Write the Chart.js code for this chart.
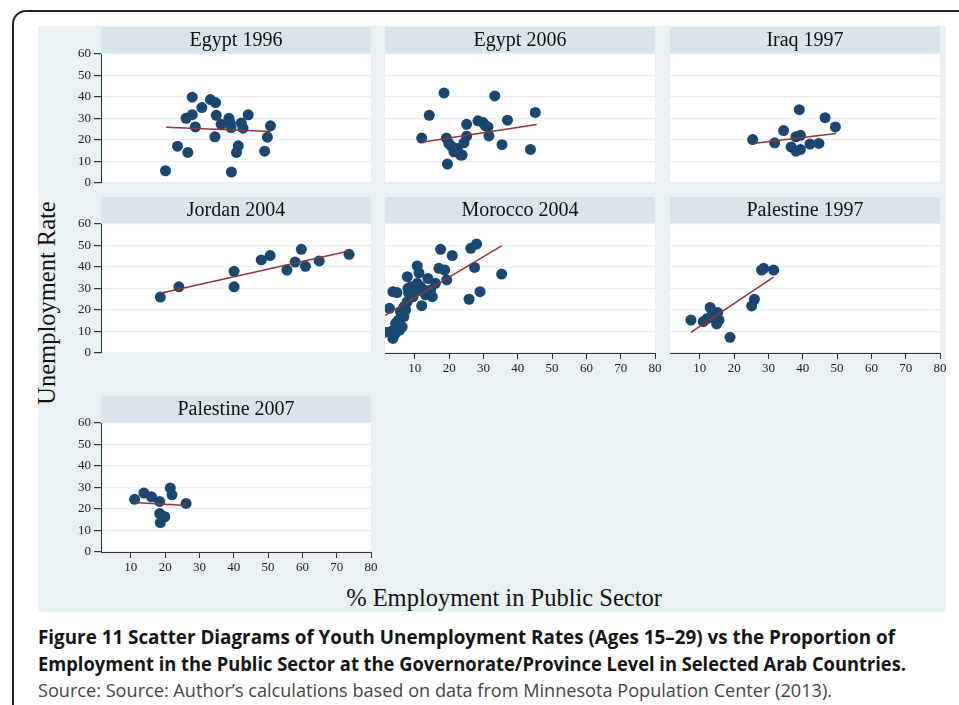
<!DOCTYPE html>
<html>
<head>
<meta charset="utf-8">
<script src="https://cdn.jsdelivr.net/npm/chart.js@4.4.1/dist/chart.umd.min.js"></script>
<style>
  body { margin: 0; width: 959px; height: 705px; background: #fff; position: relative; overflow: hidden; }
  #frame { position: absolute; left: 12px; top: 10px; width: 1000px; height: 760px; border: 2px solid #222; border-radius: 14px; }
  #figbg { position: absolute; left: 38px; top: 26px; width: 908px; height: 586px; background: #e9f1f3; }
  canvas { position: absolute; }
  .axtitle { position: absolute; font-family: "Liberation Serif", serif; font-size: 24.5px; color: #111; text-align: center; white-space: nowrap; }
  #ytitle { left: -103px; top: 288px; width: 300px; height: 30px; line-height: 30px; transform: rotate(-90deg); }
  #xtitle { left: 304px; top: 584px; width: 400px; height: 28px; line-height: 28px; }
  .cap { position: absolute; left: 38px; white-space: nowrap; transform-origin: left center;
         font-family: "Open Sans", "Noto Sans", sans-serif; font-size: 19px; line-height: 26px; }
</style>
</head>
<body>
<div id="frame"></div>
<div id="figbg"></div>
<div class="axtitle" id="ytitle">Unemployment Rate</div>
<div class="axtitle" id="xtitle">% Employment in Public Sector</div>
<div class="cap" id="cap1" data-w="857" style="top:624px;color:#151515;font-weight:700;">Figure 11 Scatter Diagrams of Youth Unemployment Rates (Ages 15–29) vs the Proportion of</div>
<div class="cap" id="cap2" data-w="868" style="top:651px;color:#151515;font-weight:700;">Employment in the Public Sector at the Governorate/Province Level in Selected Arab Countries.</div>
<div class="cap" id="cap3" data-w="794" style="top:677px;color:#444;font-weight:400;">Source: Source: Author’s calculations based on data from Minnesota Population Center (2013).</div>
<script>
// tick labels
const xTicks = [10, 20, 30, 40, 50, 60, 70, 80];
const yTicks = [0, 10, 20, 30, 40, 50, 60];

const panelTitles = ['Egypt 1996', 'Egypt 2006', 'Iraq 1997', 'Jordan 2004', 'Morocco 2004', 'Palestine 1997', 'Palestine 2007'];

// % employment in public sector / unemployment rate, per governorate
const egypt1996X = [20.1, 23.6, 26.6, 27.9, 26.1, 27.9, 28.8, 30.7, 33.2, 34.7, 34.9, 34.5, 36.3, 38.6, 39.0, 39.2, 39.3, 41.3, 40.8, 42.2, 42.7, 44.2, 49.0, 49.8, 50.7];
const egypt1996Y = [5.7, 17.1, 14.2, 39.9, 30.1, 31.8, 26.1, 35.1, 38.8, 37.4, 31.5, 21.5, 27.3, 30.1, 27.9, 25.8, 5.1, 17.3, 14.2, 27.9, 25.5, 31.7, 14.8, 21.3, 26.6];

const egypt2006X = [18.5, 33.3, 14.2, 45.1, 12.0, 19.2, 25.1, 28.4, 29.9, 31.3, 31.6, 37.0, 35.4, 43.7, 19.5, 25.1, 24.3, 20.6, 21.4, 23.3, 22.4, 19.9, 23.8, 30.6];
const egypt2006Y = [41.9, 40.5, 31.5, 32.8, 20.9, 20.9, 27.3, 28.9, 28.1, 26.1, 21.9, 29.2, 17.8, 15.6, 8.8, 21.8, 18.7, 17.1, 14.5, 13.0, 16.1, 18.4, 13.0, 26.6];

const iraq1997X = [25.4, 31.8, 34.4, 39.0, 46.5, 49.5, 38.0, 39.3, 36.6, 38.0, 39.3, 42.1, 44.7];
const iraq1997Y = [20.2, 18.7, 24.4, 34.1, 30.4, 26.1, 21.5, 22.2, 16.8, 14.8, 15.6, 18.1, 18.4];

const jordan2004X = [18.6, 24.0, 40.1, 40.1, 48.0, 50.6, 55.5, 57.9, 59.7, 60.9, 64.9, 73.6];
const jordan2004Y = [26.0, 30.8, 38.0, 30.8, 43.3, 45.3, 38.6, 42.3, 48.2, 40.3, 42.8, 45.9];

const morocco2004X = [1.3, 3.6, 2.6, 3.6, 4.8, 4.4, 5.3, 5.6, 3.9, 6.3, 6.8, 7.3, 7.8, 7.8, 8.0, 8.8, 9.5, 10.7, 11.2, 11.7, 12.0, 10.7, 12.6, 13.8, 13.1, 15.1, 16.0, 17.0, 17.5, 18.7, 19.3, 20.9, 25.8, 26.3, 28.0, 27.4, 29.0, 35.3, 14.6, 6.8, 5.8, 4.9, 9.7, 10.2, 2.9, 4.4, 8.2];
const morocco2004Y = [9.6, 6.8, 20.8, 28.5, 28.1, 13.8, 15.3, 10.7, 10.7, 12.2, 16.9, 20.0, 23.9, 35.5, 30.1, 30.8, 26.2, 40.5, 37.3, 30.8, 22.0, 32.4, 29.3, 34.7, 27.0, 26.2, 32.4, 39.4, 48.2, 38.6, 34.0, 45.3, 25.0, 48.7, 50.7, 39.8, 28.5, 36.7, 29.3, 21.5, 19.2, 14.5, 30.8, 28.5, 9.9, 9.3, 27.8];

const palestine1997X = [7.4, 11.0, 13.0, 13.7, 15.2, 15.6, 14.9, 14.2, 12.2, 18.8, 25.1, 25.9, 28.0, 28.6, 31.5];
const palestine1997Y = [15.3, 14.6, 21.2, 18.4, 18.8, 15.3, 13.5, 16.1, 16.1, 7.3, 21.9, 25.0, 38.6, 39.4, 38.6];

const palestine2007X = [11.1, 13.8, 16.0, 18.4, 18.4, 19.9, 18.6, 21.5, 22.0, 26.1];
const palestine2007Y = [24.5, 27.4, 25.7, 23.5, 17.9, 16.4, 13.7, 29.8, 26.6, 22.6];

// fitted line end points
const egypt1996FitX = [20.3, 50.7], egypt1996FitY = [25.9, 24.0];
const egypt2006FitX = [12.0, 45.5], egypt2006FitY = [19.0, 27.2];
const iraq1997FitX = [25.4, 49.7], iraq1997FitY = [18.4, 23.0];
const jordan2004FitX = [18.6, 73.6], jordan2004FitY = [27.8, 47.4];
const morocco2004FitX = [1.3, 35.3], morocco2004FitY = [17.5, 49.8];
const palestine1997FitX = [7.4, 31.5], palestine1997FitY = [9.6, 35.3];
const palestine2007FitX = [11.1, 26.1], palestine2007FitY = [23.0, 21.6];

const seriesX = [egypt1996X, egypt2006X, iraq1997X, jordan2004X, morocco2004X, palestine1997X, palestine2007X];
const seriesY = [egypt1996Y, egypt2006Y, iraq1997Y, jordan2004Y, morocco2004Y, palestine1997Y, palestine2007Y];
const fitX = [egypt1996FitX, egypt2006FitX, iraq1997FitX, jordan2004FitX, morocco2004FitX, palestine1997FitX, palestine2007FitX];
const fitY = [egypt1996FitY, egypt2006FitY, iraq1997FitY, jordan2004FitY, morocco2004FitY, palestine1997FitY, palestine2007FitY];

// layout
const colLeft = [101, 385, 670];
const rowTop = [27, 197, 396];
const plotW = 270, plotH = 129, headH = 27, yAxisW = 45, xAxisH = 30, padR = 10;
const showXAxis = [false, false, false, false, true, true, true];

const headerPlugin = {
  id: 'panelHeader',
  beforeDraw(chart, args, opts) {
    const { ctx, chartArea: a } = chart;
    ctx.save();
    ctx.fillStyle = '#ffffff';
    ctx.fillRect(a.left, a.top, a.right - a.left, a.bottom - a.top);
    ctx.fillStyle = '#d9e5eb';
    ctx.fillRect(a.left, a.top - headH, a.right - a.left, headH);
    ctx.fillStyle = '#111';
    ctx.font = '20px "Liberation Serif", serif';
    ctx.textAlign = 'center';
    ctx.textBaseline = 'middle';
    ctx.fillText(opts.text, (a.left + a.right) / 2, a.top - headH / 2 + 0.5);
    ctx.restore();
  }
};

const tickFont = { family: '"Liberation Serif", serif', size: 13 };

panelTitles.forEach((title, i) => {
  const col = i % 3, row = Math.floor(i / 3);
  const showY = col === 0;
  const showX = showXAxis[i];
  const canvas = document.createElement('canvas');
  const w = (showY ? yAxisW : 0) + plotW + padR;
  const h = headH + plotH + xAxisH;
  canvas.width = w;
  canvas.height = h;
  canvas.style.width = w + 'px';
  canvas.style.height = h + 'px';
  canvas.style.left = (colLeft[col] - (showY ? yAxisW : 0)) + 'px';
  canvas.style.top = rowTop[row] + 'px';
  document.body.appendChild(canvas);

  new Chart(canvas, {
    type: 'scatter',
    data: {
      datasets: [
        {
          data: fitX[i].map((x, k) => ({ x: x, y: fitY[i][k] })),
          showLine: true,
          borderColor: '#90353b',
          borderWidth: 1.5,
          pointRadius: 0
        },
        {
          data: seriesX[i].map((x, k) => ({ x: x, y: seriesY[i][k] })),
          backgroundColor: '#1a476f',
          borderColor: '#1a476f',
          borderWidth: 0,
          pointRadius: 5.5,
          clip: false
        }
      ]
    },
    options: {
      responsive: false,
      animation: false,
      devicePixelRatio: 1,
      layout: { autoPadding: false, padding: { top: headH, right: padR, left: 0, bottom: 0 } },
      plugins: {
        legend: { display: false },
        tooltip: { enabled: false },
        panelHeader: { text: title }
      },
      scales: {
        x: {
          type: 'linear',
          min: 1.3,
          max: 80,
          afterBuildTicks: s => { s.ticks = xTicks.map(v => ({ value: v })); },
          afterFit: s => { s.height = xAxisH; },
          border: { display: showX, color: '#333', width: 1 },
          grid: { display: showX, drawOnChartArea: false, tickLength: 6, tickColor: '#333' },
          ticks: { display: showX, color: '#222', font: tickFont, padding: 2, maxRotation: 0, autoSkip: false }
        },
        y: {
          type: 'linear',
          min: 0,
          max: 60,
          afterBuildTicks: s => { s.ticks = yTicks.map(v => ({ value: v })); },
          afterFit: s => { s.width = showY ? yAxisW : 0; },
          border: { display: showY, color: '#333', width: 1 },
          grid: { color: '#e6eff2', lineWidth: 1.2, drawTicks: showY, tickLength: 7, tickColor: '#333' },
          ticks: { display: showY, color: '#222', font: tickFont, padding: 3 }
        }
      }
    },
    plugins: [headerPlugin]
  });
});

// stretch caption lines to the widths they have in the figure
document.querySelectorAll('.cap').forEach(el => {
  const target = +el.dataset.w;
  const actual = el.getBoundingClientRect().width;
  el.style.transform = 'scaleX(' + (target / actual) + ')';
});
</script>
</body>
</html>
